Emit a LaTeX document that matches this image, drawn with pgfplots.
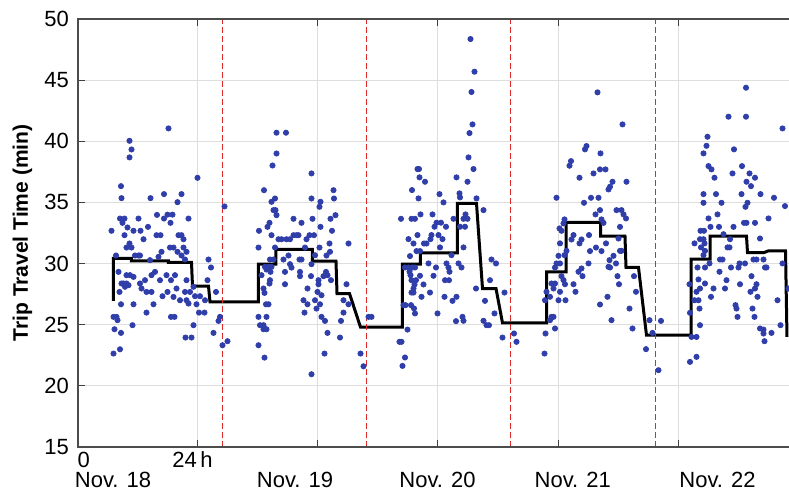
\documentclass[border=0pt]{standalone}
\usepackage{pgfplots}
\pgfplotsset{compat=1.18}
\usepackage{fontspec}
\setmainfont{Liberation Sans}
\definecolor{dotblue}{RGB}{48,62,170}
\definecolor{dashred}{RGB}{222,40,40}
\definecolor{gridgray}{RGB}{222,222,222}
\begin{document}
\begin{tikzpicture}
\begin{axis}[
  at={(0,0)}, anchor=south west,
  scale only axis, width=355.5pt, height=214pt,
  xmin=0, xmax=142.2, ymin=15, ymax=50,
  xtick={0,24,48,72,96,120}, xticklabels={},
  ytick={15,20,25,30,35,40,45,50},
  ytick pos=left,
  grid=major, major grid style={gridgray, line width=0.5pt},
  tick align=inside, major tick length=3.5pt,
  major tick style={black!75, line width=0.5pt},
  axis line style={draw=none},
  /pgf/number format/assume math mode=true,
  yticklabel style={font=\fontsize{11}{13}\selectfont, xshift=-1pt},
  clip=false,
]
\addplot[only marks, mark=*, mark size=1.3pt, color=dotblue] table {
18.1 41.05
10.3 40.04
10.7 39.33
10.3 38.68
23.9 37.01
8.6 36.33
8.7 35.35
14.5 35.35
17.2 35.68
20.7 35.68
19.9 35.02
29.3 34.67
8.4 33.68
9.3 33.68
12.1 33.68
8.9 33.33
15.8 33.98
17.2 33.68
17.9 34.0
18.9 34.0
22.1 33.68
18.5 33.33
6.7 32.68
9.9 32.95
11.1 32.68
12.5 32.68
14.0 33.0
9.3 32.32
13.1 31.99
15.7 32.32
16.5 32.32
20.1 32.32
20.7 32.32
21.1 31.99
10.3 31.64
10.7 31.31
9.7 31.31
11.4 30.66
12.1 30.66
12.4 30.66
7.6 30.66
16.7 30.96
18.4 31.31
19.1 31.31
19.9 30.96
21.1 31.31
21.7 30.96
20.7 30.66
21.4 30.33
14.4 30.28
16.1 30.55
26.1 30.33
26.6 29.68
8.1 29.32
9.7 29.05
10.4 29.05
11.1 28.91
15.4 29.32
17.7 29.05
19.4 29.05
14.7 29.05
13.4 28.64
16.4 28.64
18.6 28.64
21.7 28.64
25.9 28.64
8.7 28.37
9.1 28.37
9.7 28.37
9.4 28.1
10.1 28.23
12.4 28.37
8.3 27.68
12.7 27.96
13.7 27.68
14.7 27.68
17.9 27.68
19.7 27.96
21.4 27.68
22.4 27.68
23.1 28.1
16.9 27.33
19.1 27.27
20.4 27.0
23.4 27.33
24.4 27.33
27.6 27.68
25.4 27.0
21.7 27.0
22.1 26.73
8.6 26.67
11.1 26.67
15.1 26.67
23.7 26.67
24.2 25.99
25.3 25.99
13.7 25.99
7.1 25.64
7.7 25.64
7.9 25.37
18.6 25.64
19.3 25.64
28.1 25.31
28.4 25.64
10.9 24.96
23.1 24.96
7.3 24.63
8.6 24.33
27.1 24.33
21.5 23.95
22.7 23.95
29.9 23.65
28.9 23.32
8.4 22.99
7.1 22.64
39.7 40.7
41.6 40.7
39.7 39.0
38.9 38.02
46.7 37.37
37.2 36.0
51.1 36.0
39.4 35.32
46.7 35.32
51.2 35.32
48.5 35.05
48.3 34.64
38.7 35.05
39.1 34.37
39.5 34.37
39.7 33.96
51.5 33.96
43.1 33.66
46.9 33.66
50.5 33.66
44.7 33.33
38.3 33.33
37.9 33.0
48.5 33.0
36.2 32.68
50.8 32.68
38.7 32.32
43.1 32.32
43.7 32.32
44.1 32.32
46.3 32.32
47.2 32.32
45.7 31.99
40.1 31.99
40.7 31.99
41.7 31.99
42.4 31.99
54.1 31.64
50.3 31.64
36.1 31.31
39.4 31.31
45.4 31.31
48.3 31.31
47.4 30.68
49.7 30.66
50.4 30.96
38.4 30.33
39.1 30.33
42.1 30.66
41.1 30.33
44.3 30.33
44.7 30.33
46.7 29.95
42.4 29.95
37.4 29.73
38.1 29.73
38.7 29.73
37.7 29.51
41.4 29.32
42.7 29.67
38.5 29.32
44.4 29.32
49.6 29.32
49.9 29.05
36.7 29.05
44.4 28.97
46.6 28.97
49.1 28.97
50.6 28.64
48.1 28.64
38.4 28.64
38.3 28.37
41.4 28.31
53.7 28.31
48.1 28.31
37.1 27.96
45.9 27.96
37.3 27.6
47.9 27.68
48.7 27.41
53.1 27.0
45.1 27.0
47.4 27.0
37.6 26.67
38.1 26.67
45.9 26.67
48.4 26.67
47.7 26.32
54.1 26.67
45.3 25.99
53.1 25.99
36.1 25.64
37.7 25.64
48.7 25.64
58.1 25.64
58.7 25.64
49.4 25.31
52.6 25.31
36.4 24.96
37.1 24.96
37.1 24.63
37.7 24.63
49.9 24.33
52.4 23.95
36.1 23.32
49.3 22.64
56.5 22.64
37.3 22.31
46.7 20.95
57.1 21.6
78.5 48.36
79.3 45.69
78.7 44.03
78.9 41.38
78.3 40.67
78.1 38.68
79.1 37.73
67.9 37.73
68.2 37.73
68.3 37.05
69.4 36.69
75.7 37.05
77.9 36.69
66.8 36.01
72.3 35.68
76.3 35.74
76.4 35.41
68.1 35.33
79.7 35.33
73.1 35.0
81.1 34.37
64.6 33.66
66.7 33.66
67.4 33.66
68.5 34.02
70.9 34.02
75.1 33.66
77.1 33.66
77.9 33.66
77.5 34.02
71.7 33.34
72.6 33.34
71.3 33.01
73.6 33.01
76.4 33.01
77.4 33.01
67.9 32.33
70.7 32.33
72.1 32.33
70.5 32.0
66.1 32.0
67.1 31.64
69.2 31.64
69.7 31.64
72.9 32.0
72.4 31.32
77.1 31.32
67.7 31.02
68.4 31.02
74.7 30.69
66.4 30.61
70.1 30.01
73.7 30.01
76.1 30.01
76.7 29.68
82.7 30.33
83.6 30.01
65.4 29.68
66.1 29.68
66.9 29.68
67.4 29.68
71.6 29.68
74.1 29.68
66.3 29.33
66.5 29.05
68.4 29.0
71.1 29.0
74.3 29.33
66.7 28.64
67.6 28.64
73.4 28.64
74.2 28.64
82.4 28.64
67.3 28.29
69.1 28.29
67.1 27.96
79.6 27.96
66.7 27.63
67.1 27.63
68.7 27.28
70.4 27.63
85.3 27.63
73.3 27.28
75.7 27.28
74.9 26.95
81.4 26.95
65.1 26.6
65.5 26.6
66.6 26.6
67.2 26.33
67.4 25.92
71.9 25.92
83.3 25.92
76.9 25.64
77.1 25.32
75.6 25.29
81.1 25.32
81.7 24.96
82.2 24.96
65.9 24.6
87.2 24.28
64.3 23.6
64.7 23.6
84.9 23.95
87.7 23.6
65.4 22.32
64.9 21.63
103.9 44.0
108.9 41.38
101.7 39.61
101.4 39.34
104.5 39.01
98.6 38.38
98.3 38.0
104.4 37.7
105.5 37.7
103.1 37.37
100.3 37.02
109.7 36.69
106.9 36.69
106.4 36.28
106.1 36.06
95.7 35.38
102.6 35.38
104.1 35.38
101.2 34.97
107.7 34.37
108.7 34.37
104.4 34.37
103.5 34.02
109.1 34.02
109.6 33.69
104.7 33.61
105.1 33.33
97.3 33.61
97.1 33.28
96.3 32.87
96.7 32.68
108.4 33.0
99.1 32.33
98.7 31.97
100.7 31.97
100.3 31.65
102.2 32.33
105.6 31.65
108.1 32.05
96.4 31.65
97.7 31.04
97.3 30.69
102.4 31.02
103.6 31.31
104.7 31.02
107.1 30.63
108.4 31.04
108.7 31.04
96.1 30.63
106.3 30.28
106.1 29.73
106.4 29.68
95.7 30.01
96.4 30.01
102.1 30.01
107.6 30.01
95.4 29.68
100.7 29.6
100.1 29.33
96.7 28.97
97.1 28.65
100.9 28.97
107.9 28.97
111.2 28.97
94.7 28.37
95.4 28.37
97.4 28.31
99.1 28.31
108.2 28.31
95.1 27.96
93.7 27.69
96.4 27.69
99.5 27.69
111.6 27.69
94.4 27.28
93.4 27.0
96.1 27.0
97.5 27.0
105.9 27.28
104.4 26.65
110.3 26.32
94.7 25.64
95.1 25.64
94.4 25.37
106.7 25.37
114.3 25.37
95.4 24.69
110.9 24.69
93.5 24.28
113.6 23.0
93.3 22.64
116.1 21.28
116.6 25.31
114.9 24.33
133.6 44.38
130.1 42.01
133.6 42.01
140.9 41.05
125.9 40.37
125.7 39.63
131.2 39.34
125.1 39.01
126.1 37.97
126.7 37.7
132.8 37.97
130.9 37.37
134.3 37.37
127.3 37.02
135.4 37.02
133.7 36.69
134.6 36.33
125.1 35.68
127.6 35.68
132.7 35.68
136.5 35.68
139.2 35.38
125.1 34.97
128.7 34.97
133.9 34.97
133.5 34.64
141.4 34.7
127.9 34.02
126.1 33.69
138.1 33.69
133.2 33.33
133.7 33.33
135.4 33.33
126.5 33.0
128.2 33.0
131.1 33.0
124.5 32.68
125.2 32.68
129.1 32.4
136.4 32.05
124.4 31.99
125.1 31.99
130.4 31.99
123.3 31.65
125.3 31.65
124.6 31.32
125.4 31.04
129.9 31.32
130.3 31.32
125.1 30.69
126.3 30.01
128.4 30.33
128.9 30.33
135.1 30.33
135.7 30.33
137.1 30.33
132.3 30.01
133.4 30.01
140.9 30.01
123.9 29.68
125.4 29.68
130.6 29.68
132.1 29.68
137.4 29.68
137.7 29.68
128.3 29.33
134.7 28.97
124.1 28.7
122.3 28.31
125.4 28.37
129.7 28.64
132.4 28.31
135.7 28.31
124.4 27.96
123.7 27.69
127.1 27.96
129.4 27.96
134.5 27.69
135.4 27.96
135.9 27.28
142.1 27.96
123.3 27.0
124.1 27.0
126.6 27.28
139.9 27.0
124.3 26.32
131.5 26.6
131.7 26.32
134.9 26.32
122.4 25.97
131.9 25.64
135.3 25.64
124.4 24.96
136.4 24.69
137.1 24.6
140.5 24.96
137.1 24.28
138.7 24.33
137.3 23.65
122.7 24.0
123.7 24.0
123.7 22.37
122.4 21.96
};
\addplot[black, line width=1.5pt, line join=miter] coordinates {
(7.1,26.95) (7.1,30.42) (10.7,30.42) (10.7,30.22) (18.1,30.22) (18.1,30.09)
(22.7,30.09) (22.9,28.15) (26.1,28.15) (26.4,26.87) (36.1,26.87) (36.1,29.95)
(39.6,29.95) (39.6,31.15) (46.9,31.15) (46.9,30.2) (51.6,30.2) (51.8,27.55)
(54.3,27.55) (56.5,24.8) (64.9,24.8) (64.9,29.95) (68.5,29.95) (68.5,30.88)
(75.9,30.88) (75.9,34.92) (79.7,34.92) (80.9,27.96) (83.6,27.96) (84.9,25.15)
(93.7,25.15) (93.7,29.32) (97.6,29.32) (97.6,33.36) (104.5,33.36) (104.5,32.24)
(109.4,32.24) (109.6,29.68) (112.1,29.68) (113.7,24.14) (122.6,24.14) (122.6,30.36)
(126.4,30.36) (126.4,32.24) (133.7,32.24) (133.9,30.9) (137.2,30.9) (138.1,31.04)
(141.5,31.04) (141.8,24.0)
};
\addplot[dashred, line width=0.6pt, dash pattern=on 3pt off 1.5pt] coordinates {(28.85,15) (28.85,50)};
\addplot[dashred, line width=0.6pt, dash pattern=on 3pt off 1.5pt] coordinates {(57.7,15) (57.7,50)};
\addplot[dashred, line width=0.6pt, dash pattern=on 3pt off 1.5pt] coordinates {(86.55,15) (86.55,50)};
\addplot[dashred, line width=0.6pt, dash pattern=on 3pt off 1.5pt] coordinates {(115.5,15) (115.5,50)};
\end{axis}
\draw[black!70, line width=0.6pt] (355.5pt,214pt) -- (0,214pt) -- (0,0) -- (355.5pt,0);
\node[font=\fontsize{10.5}{12}\selectfont\bfseries, rotate=90] at (-27.75pt,107pt) {Trip Travel Time (min)};
\begin{scope}[every node/.style={font=\fontsize{11}{13}\selectfont, anchor=base, inner sep=0pt}]
\node at (2.85pt,-10.5pt) {0};
\node at (57.25pt,-10.5pt) {24\,h};
\node at (17.5pt,-20.5pt) {Nov. 18};
\node at (108.5pt,-20.5pt) {Nov. 19};
\node at (179.75pt,-20.5pt) {Nov. 20};
\node at (247.4pt,-20.5pt) {Nov. 21};
\node at (319.75pt,-20.5pt) {Nov. 22};
\end{scope}
\pgfresetboundingbox
\path[use as bounding box] (-39pt,-21.5pt) rectangle (355.5pt,223.5pt);
\end{tikzpicture}
\end{document}
